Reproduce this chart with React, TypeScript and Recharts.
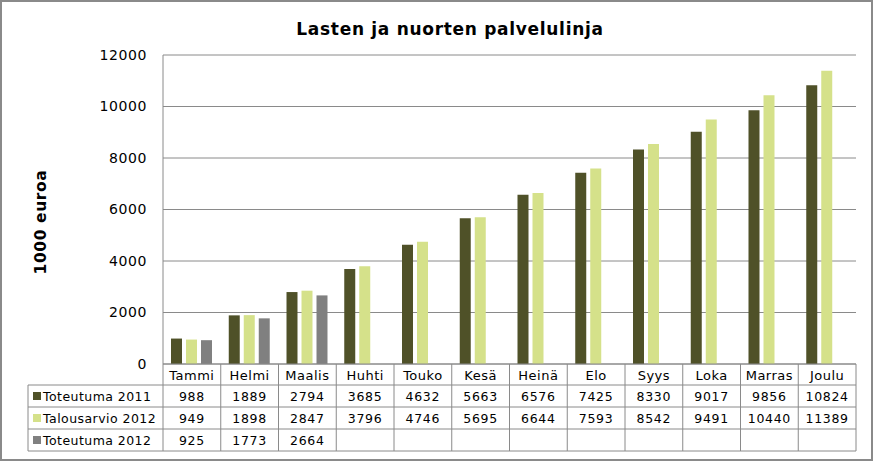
import React from 'react';
import { BarChart, Bar, XAxis, YAxis, CartesianGrid } from 'recharts';

const months = ['Tammi', 'Helmi', 'Maalis', 'Huhti', 'Touko', 'Kesä', 'Heinä', 'Elo', 'Syys', 'Loka', 'Marras', 'Joulu'];
const toteutuma2011 = [988, 1889, 2794, 3685, 4632, 5663, 6576, 7425, 8330, 9017, 9856, 10824];
const talousarvio2012 = [949, 1898, 2847, 3796, 4746, 5695, 6644, 7593, 8542, 9491, 10440, 11389];
const toteutuma2012 = [925, 1773, 2664, null, null, null, null, null, null, null, null, null];
const yTicks = [0, 2000, 4000, 6000, 8000, 10000, 12000];

const series = [
  { key: 't2011', name: 'Toteutuma 2011', color: '#4f5128', values: toteutuma2011 },
  { key: 'b2012', name: 'Talousarvio 2012', color: '#d5e18a', values: talousarvio2012 },
  { key: 't2012', name: 'Toteutuma 2012', color: '#808080', values: toteutuma2012 },
];

const data = months.map((m, i) => ({
  month: m,
  t2011: toteutuma2011[i],
  b2012: talousarvio2012[i],
  t2012: toteutuma2012[i],
}));

const W = 875;
const H = 461;
const font = '"DejaVu Sans", Verdana, sans-serif';
const line = '#8a8a8a';

// plot area
const plotLeft = 163;
const plotRight = 856;
const plotTop = 55;
const plotBottom = 364;
const colW = (plotRight - plotLeft) / months.length;
const rowLines = [385, 407, 429, 451];
const tableLeft = 28;

function DataTable() {
  return (
    <svg width={W} height={H} style={{ position: 'absolute', left: 0, top: 0, pointerEvents: 'none' }}>
      <text
        x={450}
        y={35}
        textAnchor="middle"
        fontFamily={font}
        fontWeight="bold"
        fontSize={17}
        letterSpacing={0.7}
        fill="#000"
      >
        Lasten ja nuorten palvelulinja
      </text>
      <text
        x={0}
        y={0}
        transform={`translate(46, 222) rotate(-90)`}
        textAnchor="middle"
        fontFamily={font}
        fontWeight="bold"
        fontSize={15.5}
        letterSpacing={0.6}
        fill="#000"
      >
        1000 euroa
      </text>
      {months.map((_, i) => (
        <line key={'v' + i} x1={plotLeft + i * colW} x2={plotLeft + i * colW} y1={plotBottom} y2={rowLines[3]} stroke={line} />
      ))}
      <line x1={plotRight} x2={plotRight} y1={plotBottom} y2={rowLines[3]} stroke={line} />
      <line x1={tableLeft} x2={tableLeft} y1={rowLines[0]} y2={rowLines[3]} stroke={line} />
      {rowLines.map((y) => (
        <line key={'h' + y} x1={tableLeft} x2={plotRight} y1={y} y2={y} stroke={line} />
      ))}
      {series.map((s, r) => {
        const yMid = (rowLines[r] + rowLines[r + 1]) / 2;
        return (
          <g key={s.key}>
            <rect x={33} y={yMid - 4} width={8} height={8} fill={s.color} />
            <text x={43} y={yMid + 4.5} fontFamily={font} fontSize={12.5} letterSpacing={0.45} fill="#000">
              {s.name}
            </text>
            {s.values.map((v, i) =>
              v == null ? null : (
                <text
                  key={i}
                  x={plotLeft + (i + 0.5) * colW}
                  y={yMid + 4.5}
                  textAnchor="middle"
                  fontFamily={font}
                  fontSize={12.5}
                  letterSpacing={0.7}
                  fill="#000"
                >
                  {v}
                </text>
              )
            )}
          </g>
        );
      })}
    </svg>
  );
}

export default function App() {
  return (
    <div
      style={{
        position: 'absolute',
        left: 0,
        top: 0,
        width: 873,
        height: H,
        boxSizing: 'border-box',
        border: '2px solid #8a8a8a',
        background: '#fff',
      }}
    >
      <div style={{ position: 'absolute', left: -2, top: -2 }}>
        <BarChart
          width={W}
          height={H}
          data={data}
          margin={{ top: plotTop, right: W - plotRight, left: plotLeft - 60, bottom: H - plotBottom - 20 }}
          barSize={11}
          barGap={4}
        >
          <CartesianGrid vertical={false} stroke={line} />
          <XAxis
            dataKey="month"
            height={20}
            interval={0}
            tickLine={false}
            axisLine={{ stroke: line }}
            tickMargin={1}
            tick={{ fontSize: 13, fill: '#000', fontFamily: font, letterSpacing: 0.5 }}
          />
          <YAxis
            width={60}
            domain={[0, 12000]}
            ticks={yTicks}
            tickLine={false}
            axisLine={{ stroke: line }}
            tickMargin={10}
            tick={{ fontSize: 14, fill: '#000', fontFamily: font, letterSpacing: 0.6 }}
          />
          {series.map((s) => (
            <Bar key={s.key} dataKey={s.key} name={s.name} fill={s.color} isAnimationActive={false} />
          ))}
        </BarChart>
        <DataTable />
      </div>
    </div>
  );
}
